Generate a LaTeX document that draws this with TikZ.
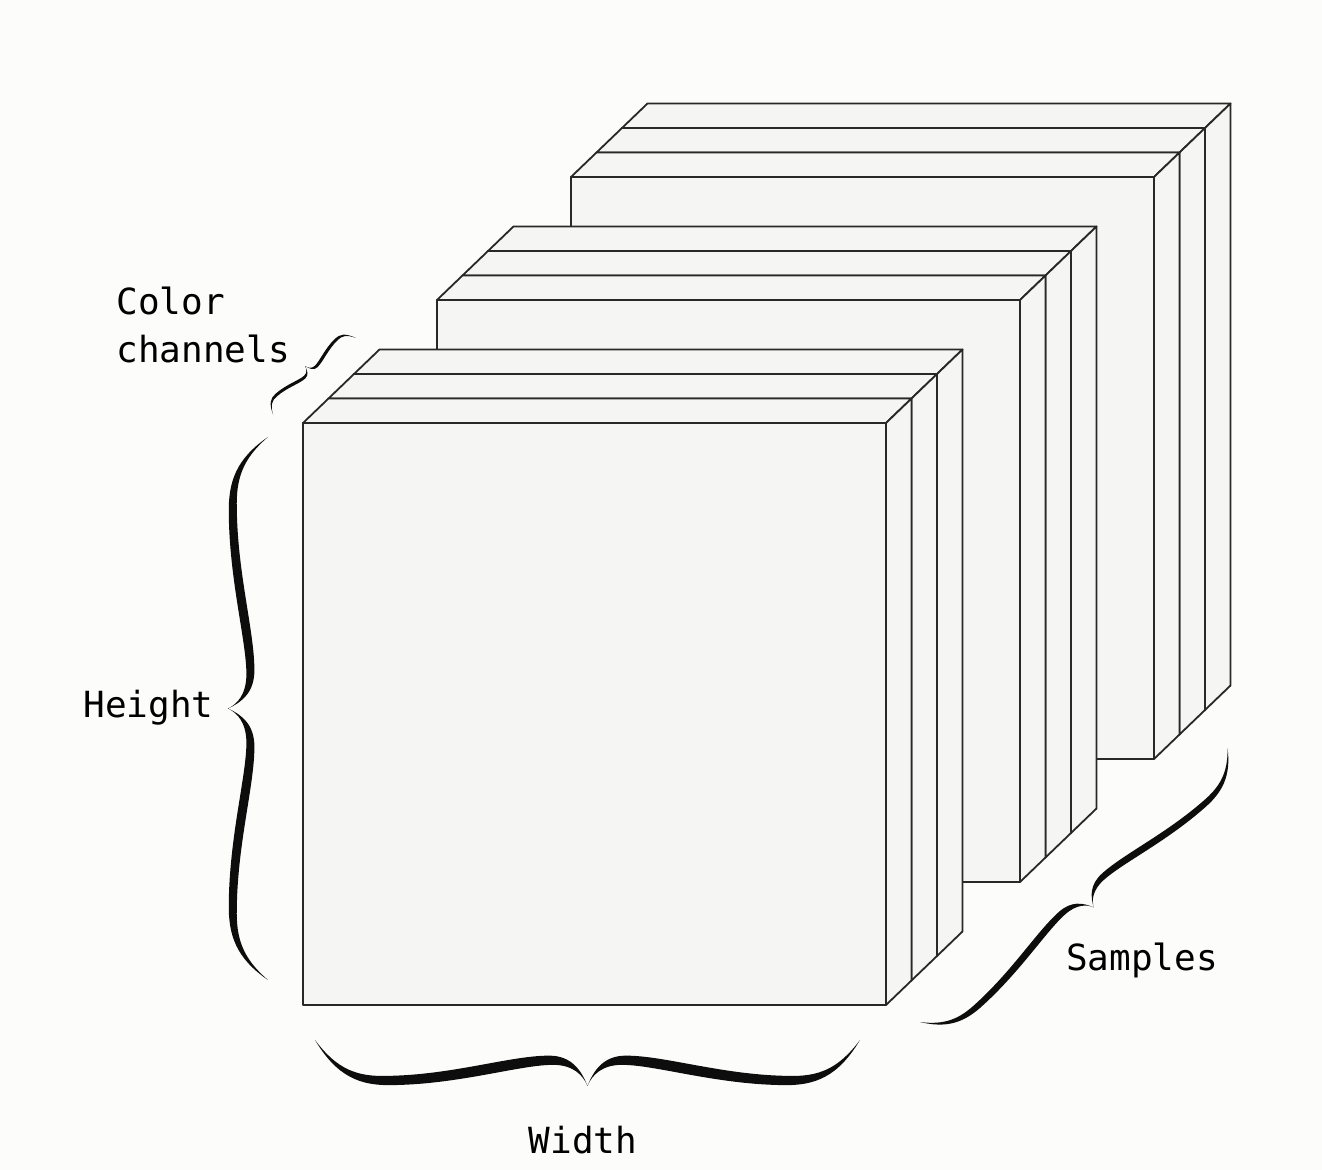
\documentclass[tikz,border=0pt]{standalone}
\usepackage{fontspec}
\setmonofont{DejaVu Sans Mono}
\usetikzlibrary{positioning}
\definecolor{paper}{RGB}{252,252,250}
\definecolor{slab}{RGB}{245,245,243}
\definecolor{edge}{RGB}{40,40,40}

\begin{document}
\begin{tikzpicture}[
            x=0.5pt, y=-0.5pt,
            face/.style={draw=edge,fill=slab,line width=0.9pt,line join=round},
            lbl/.style={font=\fontsize{18}{24}\selectfont\ttfamily,inner sep=0pt,align=left},
            % tapered curly brace: length, amplitude (tip side = local +y)
            pics/cbrace/.style 2 args={code={
                \fill[black!95,xscale=#1/545,yscale=#2/50]
                    (0,0) .. controls (22,40) and (45,50) .. (78,49)
                    .. controls (145,48) and (205,27) .. (238,27)
                    .. controls (258,27) and (268,38) .. (272.5,50)
                    .. controls (277,38) and (287,27) .. (307,27)
                    .. controls (340,27) and (400,48) .. (467,49)
                    .. controls (500,50) and (523,40) .. (545,0)
                    .. controls (523,32) and (503,40) .. (473,39)
                    .. controls (407,38) and (350,17) .. (311,17)
                    .. controls (289,17) and (279,32) .. (272.5,50)
                    .. controls (266,32) and (256,17) .. (234,17)
                    .. controls (195,17) and (138,38) .. (72,39)
                    .. controls (42,40) and (22,32) .. (0,0) -- cycle;
            }},
        ]

        \fill[paper] (0,0) rectangle (1322,1170);

        % three samples, three colour channels each (back to front)
        \foreach \s in {2,1,0} {
            \foreach \l in {2,1,0} {
                \pgfmathsetmacro\ox{303+134*\s+25.5*\l}
                \pgfmathsetmacro\oy{1005-123*\s-24.5*\l}
                \draw[face] (\ox,\oy) rectangle ++(583,-582);
                \draw[face] (\ox,\oy-582) -- ++(25.5,-24.5) -- ++(583,0) -- ++(-25.5,24.5) -- cycle;
                \draw[face] (\ox+583,\oy) -- ++(25.5,-24.5) -- ++(0,-582) -- ++(-25.5,24.5) -- cycle;
            }
        }

        \coordinate (hgt-b) at (268,437);
        \coordinate (wid-b) at (315,1040);
        \coordinate (smp-b) at (920,1022);
        \coordinate (chn-b) at (356,338);

        \pic[rotate=-90] at (hgt-b) {cbrace={543}{40}};
        \pic at (wid-b) {cbrace={545}{46}};
        \pic[rotate=41.7] at (smp-b) {cbrace={412}{30}};
        \pic[rotate=222.8] at (chn-b) {cbrace={113}{14}};

        \node[lbl,anchor=east] (height) at (214,708) {Height};
        \node[lbl] (width) at (583,1140) {Width};
        \node[lbl] (samples) at (1142,960) {Samples};
        \node[lbl,anchor=west] (channels) at (116,325) {Color\\channels};

\end{tikzpicture}
\end{document}
